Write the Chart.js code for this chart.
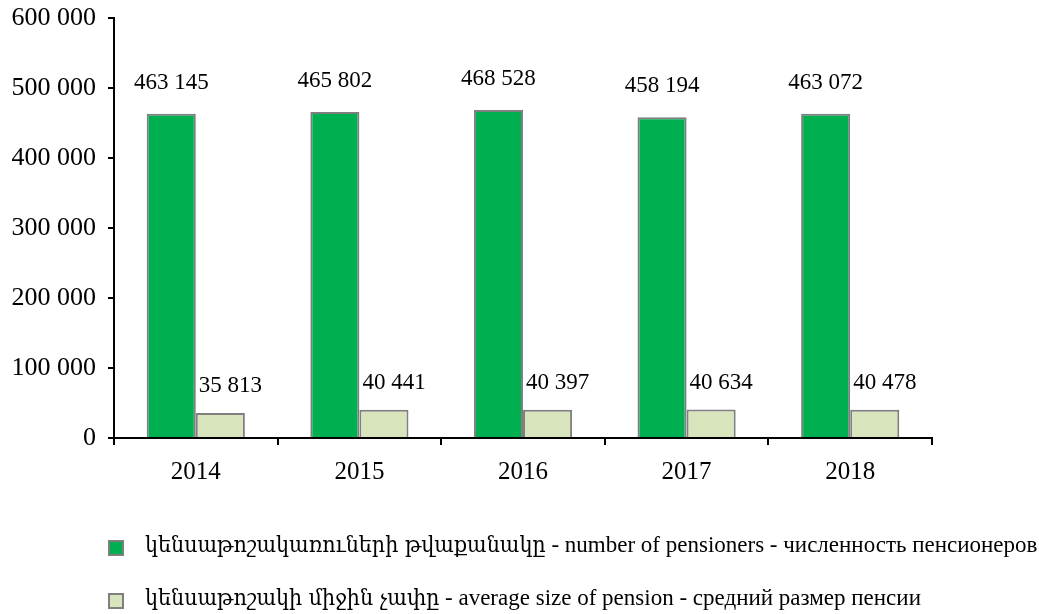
<!DOCTYPE html>
<html>
<head>
<meta charset="utf-8">
<script src="https://cdn.jsdelivr.net/npm/chart.js@4.4.1/dist/chart.umd.min.js"></script>
<style>
  html, body { margin: 0; padding: 0; background: #fff; }
  #wrap { position: relative; width: 1039px; height: 614px; }
  #c { position: absolute; left: 0; top: 0; }
  .leg { position: absolute; left: 108px; height: 20px; white-space: nowrap;
         font-family: "Liberation Serif", "DejaVu Serif", serif; font-size: 23px; color: #000; }
  .leg .box { position: absolute; left: 0; top: 0; width: 12px; height: 12px; border: 2px solid #7f7f7f; }
  .leg .txt { position: absolute; left: 37px; top: -9px; line-height: 26px; }
  .arm { font-family: "DejaVu Serif", serif; font-stretch: condensed; }
</style>
</head>
<body>
<div id="wrap">
  <canvas id="c" width="1039" height="614"></canvas>
  <div class="leg" id="leg1" style="top:540px"><span class="box" id="box1"></span><span class="txt" id="txt1"></span></div>
  <div class="leg" id="leg2" style="top:593px"><span class="box" id="box2"></span><span class="txt" id="txt2"></span></div>
</div>
<script>
// Years on the category axis
const years = ['2014', '2015', '2016', '2017', '2018'];
// Number of pensioners
const pensioners = [463145, 465802, 468528, 458194, 463072];
// Average size of pension (AMD)
const avgPension = [35813, 40441, 40397, 40634, 40478];
// Value axis ticks
const yTicks = [0, 100000, 200000, 300000, 400000, 500000, 600000];

// Legend labels: Armenian part, then English / Russian part
const seriesArm = ['կենսաթոշակառուների թվաքանակը', 'կենսաթոշակի միջին չափը'];
const seriesRest = [' - number of pensioners - численность пенсионеров', ' - average size of pension - средний размер пенсии'];

const colors = ['#00b050', '#d8e4bc'];
const edge = '#7f7f7f';

function fmt(v) {
  return String(v).replace(/\B(?=(\d{3})+(?!\d))/g, ' ');
}

// HTML legend
[1, 2].forEach((n, i) => {
  document.getElementById('box' + n).style.background = colors[i];
  const t = document.getElementById('txt' + n);
  const a = document.createElement('span');
  a.className = 'arm';
  a.textContent = seriesArm[i];
  t.appendChild(a);
  t.appendChild(document.createTextNode(seriesRest[i]));
});

// Value labels above each bar
const valueLabels = {
  id: 'valueLabels',
  afterDatasetsDraw(chart) {
    const ctx = chart.ctx;
    ctx.save();
    ctx.font = '23px "Liberation Serif", serif';
    ctx.fillStyle = '#000';
    ctx.textBaseline = 'middle';
    chart.data.datasets.forEach((ds, di) => {
      const meta = chart.getDatasetMeta(di);
      meta.data.forEach((bar, i) => {
        const txt = fmt(ds.data[i]);
        if (di === 0) {
          ctx.textAlign = 'center';
          ctx.fillText(txt, bar.x, bar.y - 31);
        } else {
          ctx.textAlign = 'left';
          ctx.fillText(txt, bar.x - bar.width / 2 + 3, bar.y - 27);
        }
      });
    });
    ctx.restore();
  }
};

// keep the plot area edges where the layout padding puts them
function noLabelPadding(s) {
  s.paddingTop = 0; s.paddingBottom = 0; s.paddingLeft = 0; s.paddingRight = 0;
}

new Chart(document.getElementById('c'), {
  type: 'bar',
  data: {
    labels: years,
    datasets: [
      { data: pensioners, backgroundColor: colors[0], borderColor: edge, borderWidth: 2,
        barPercentage: 1, categoryPercentage: 0.6 },
      { data: avgPension, backgroundColor: colors[1], borderColor: edge, borderWidth: 2,
        barPercentage: 1, categoryPercentage: 0.6 }
    ]
  },
  options: {
    responsive: false,
    animation: false,
    layout: { padding: { top: 18, right: 107, bottom: 126, left: 0 } },
    plugins: { legend: { display: false }, tooltip: { enabled: false } },
    scales: {
      x: {
        afterFit(s) { s.height = 50; noLabelPadding(s); },
        border: { display: true, color: '#000', width: 2 },
        grid: { display: true, drawOnChartArea: false, drawTicks: true, tickLength: 7, tickColor: '#000', lineWidth: 2, offset: true },
        ticks: { color: '#000', padding: 12, font: { family: '"Liberation Serif", serif', size: 25 } }
      },
      y: {
        min: 0, max: 600000,
        afterFit(s) { s.width = 114; noLabelPadding(s); },
        afterBuildTicks(s) { s.ticks = yTicks.map(v => ({ value: v })); },
        border: { display: true, color: '#000', width: 2 },
        grid: { display: true, drawOnChartArea: false, drawTicks: true, tickLength: 6, tickColor: '#000', lineWidth: 2 },
        ticks: { color: '#000', padding: 12, callback: v => fmt(v), font: { family: '"Liberation Serif", serif', size: 26 } }
      }
    }
  },
  plugins: [valueLabels]
});
</script>
</body>
</html>
